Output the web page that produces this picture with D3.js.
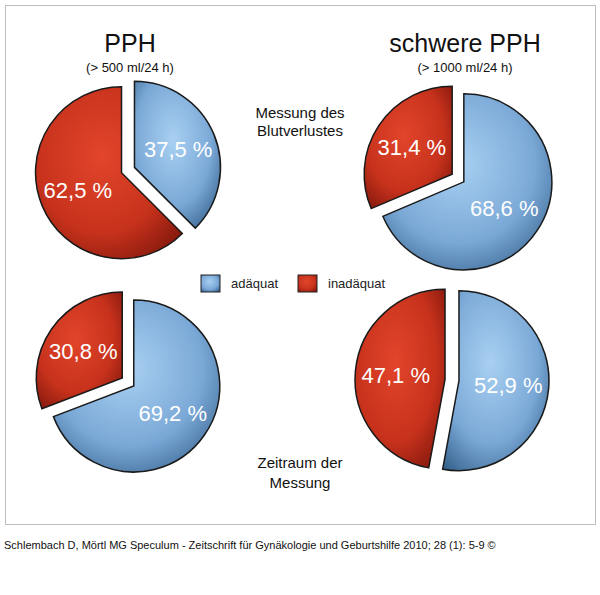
<!DOCTYPE html>
<html lang="de">
<head>
<meta charset="utf-8">
<script src="https://d3js.org/d3.v7.min.js"></script>
<style>
body{margin:0;background:#fff;font-family:"Liberation Sans",Arial,sans-serif;}
</style>
</head>
<body>
<div id="vis"></div>
<script>
const categories = ["adäquat", "inadäquat"];
const pieTitles = ["PPH", "schwere PPH"];
const pieSubtitles = ["(> 500 ml/24 h)", "(> 1000 ml/24 h)"];
const rowLabels = [["Messung des", "Blutverlustes"], ["Zeitraum der", "Messung"]];
// values per pie: [adäquat, inadäquat]
const pph_blutverlust = [37.5, 62.5];
const schwer_blutverlust = [68.6, 31.4];
const pph_zeitraum = [69.2, 30.8];
const schwer_zeitraum = [52.9, 47.1];
const source = "Schlembach D, Mörtl MG Speculum - Zeitschrift für Gynäkologie und Geburtshilfe 2010; 28 (1): 5-9 ©";

const width = 600, height = 595;
const svg = d3.select("#vis").append("svg").attr("width", width).attr("height", height);
const defs = svg.append("defs");
function grad(id, c1, c2, c3) {
  const g = defs.append("radialGradient").attr("id", id).attr("cx", "45%").attr("cy", "40%").attr("r", "75%");
  g.append("stop").attr("offset", "0%").attr("stop-color", c1);
  g.append("stop").attr("offset", "60%").attr("stop-color", c2);
  g.append("stop").attr("offset", "100%").attr("stop-color", c3);
}
grad("gBlue", "#a9d0f2", "#7aa8d6", "#2f5b86");
grad("gRed", "#e2452b", "#c7321c", "#7d150b");
const color = d3.scaleOrdinal().domain(categories).range(["url(#gBlue)", "url(#gRed)"]);

svg.append("rect").attr("x", 5.5).attr("y", 5.5).attr("width", 590).attr("height", 519)
  .attr("fill", "#fff").attr("stroke", "#bdbdbd").attr("stroke-width", 1);

function drawPie(cx, cy, r, values) {
  const data = categories.map((c, i) => ({cat: c, v: values[i]}));
  const arcs = d3.pie().value(d => d.v).sort(null)(data);
  const arc = d3.arc().innerRadius(0).outerRadius(r);
  const labelArc = d3.arc().innerRadius(0).outerRadius(r * 1.1);
  const g = svg.append("g").attr("transform", `translate(${cx},${cy})`);
  arcs.forEach(a => {
    const mid = (a.startAngle + a.endAngle) / 2;
    const off = 7;
    const s = g.append("g").attr("transform", `translate(${Math.sin(mid) * off},${-Math.cos(mid) * off})`);
    s.append("path").attr("d", arc(a)).attr("fill", color(a.data.cat))
      .attr("stroke", "#1a1a1a").attr("stroke-width", 1.5);
    const [lx, ly] = labelArc.centroid(a);
    s.append("text").attr("x", lx).attr("y", ly).attr("dy", "0.35em")
      .attr("text-anchor", "middle").attr("fill", "#fff").attr("font-size", 22)
      .text(d3.format(".1f")(a.data.v).replace(".", ",") + " %");
  });
}

drawPie(128, 170, 86, pph_blutverlust);
drawPie(458, 178, 88, schwer_blutverlust);
drawPie(128, 382, 86, pph_zeitraum);
drawPie(452, 380, 90, schwer_zeitraum);

// column titles
[130, 465].forEach((x, i) => {
  svg.append("text").attr("x", x).attr("y", 52).attr("text-anchor", "middle")
    .attr("font-size", 25).attr("fill", "#111").text(pieTitles[i]);
  svg.append("text").attr("x", x).attr("y", 72).attr("text-anchor", "middle")
    .attr("font-size", 13).attr("fill", "#111").text(pieSubtitles[i]);
});

// row labels
[[118, 136], [468, 488]].forEach((ys, i) => {
  ys.forEach((y, j) => svg.append("text").attr("x", 300).attr("y", y).attr("text-anchor", "middle")
    .attr("font-size", 15).attr("fill", "#111").text(rowLabels[i][j]));
});

// legend
const leg = svg.append("g").attr("transform", "translate(201,275)");
categories.forEach((c, i) => {
  const x = i * 97;
  leg.append("rect").attr("x", x).attr("y", 0).attr("width", 19).attr("height", 17)
    .attr("fill", color(c)).attr("stroke", "#222").attr("stroke-width", 1);
  leg.append("text").attr("x", x + 30).attr("y", 13).attr("font-size", 13).attr("fill", "#222").text(c);
});

svg.append("text").attr("x", 4).attr("y", 549).attr("font-size", 11).attr("fill", "#111").text(source);
</script>
</body>
</html>
